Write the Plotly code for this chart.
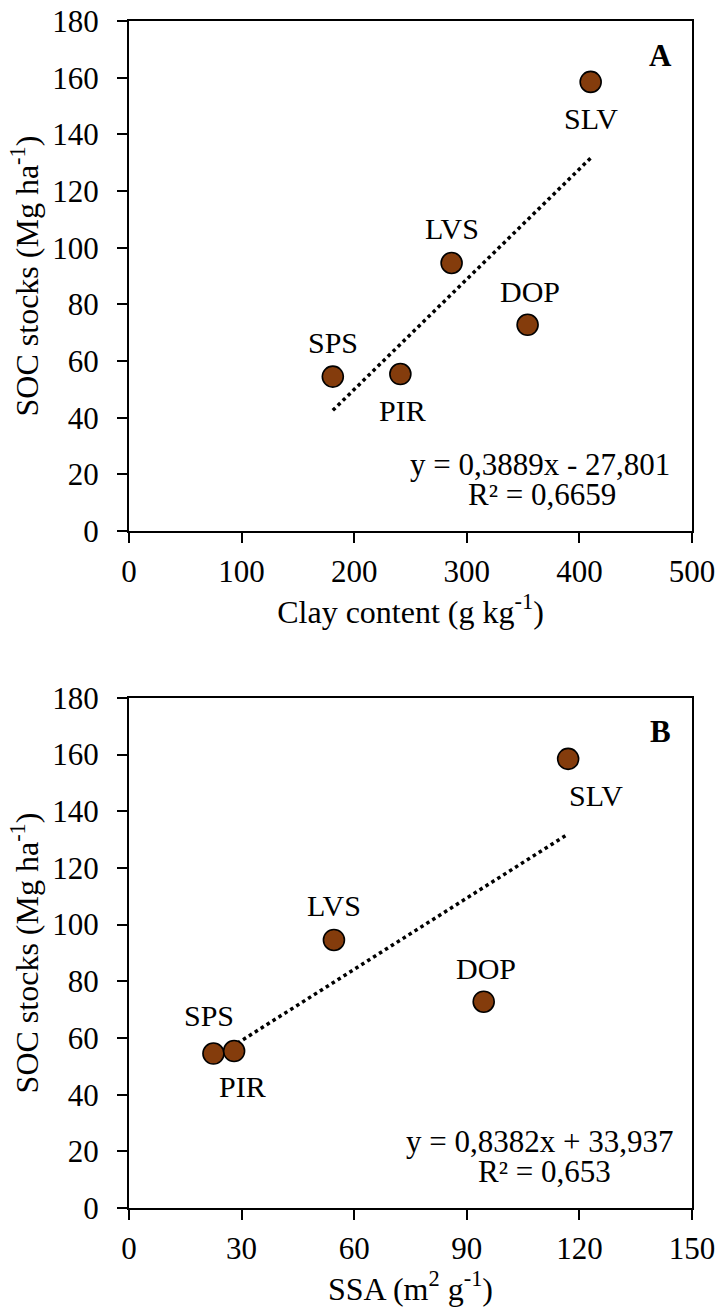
import plotly.graph_objects as go
import numpy as np

# ---------------- data ----------------
sites = ["SPS", "PIR", "LVS", "DOP", "SLV"]
soc_stocks = [54.5, 55.4, 94.6, 72.8, 158.5]          # Mg ha-1
clay_content = [181, 241, 286.5, 354, 410]            # g kg-1
ssa = [22.5, 28.0, 54.6, 94.5, 117.0]                 # m2 g-1

fit_a = {"slope": 0.3889, "intercept": -27.801}
fit_b = {"slope": 0.8382, "intercept": 33.937}
eq_a = ["y = 0,3889x - 27,801", "R² = 0,6659"]
eq_b = ["y = 0,8382x + 33,937", "R² = 0,653"]
panel_letters = ["A", "B"]

x_ticks_a = [0, 100, 200, 300, 400, 500]
x_ticks_b = [0, 30, 60, 90, 120, 150]
y_ticks = [0, 20, 40, 60, 80, 100, 120, 140, 160, 180]

# ---------------- style ----------------
FONT = "Times New Roman, Liberation Serif, serif"
BROWN = "#843C0C"
W, H = 718, 1309
# label offsets (pixels) for each site in each panel: (xshift, yshift)
lab_off_a = [(0, 34), (2, -36), (0, 34), (2, 33), (0, -37)]
lab_off_b = [(-4, 38), (8, -35), (0, 34), (2, 33), (28, -37)]

fig = go.Figure()

def add_panel(xvals, fit, xa, ya, eq, letter, offsets, letter_x, eq_x):
    xs = np.array([min(xvals), max(xvals)])
    ys = fit["slope"] * xs + fit["intercept"]
    fig.add_trace(go.Scatter(x=xs, y=ys, mode="lines", xaxis=xa, yaxis=ya,
                             line=dict(color="black", width=3.5, dash="3.5px,3.5px"),
                             showlegend=False, hoverinfo="skip"))
    fig.add_trace(go.Scatter(x=xvals, y=soc_stocks, mode="markers", xaxis=xa, yaxis=ya,
                             marker=dict(size=21, color=BROWN,
                                         line=dict(color="black", width=1.6)),
                             showlegend=False))
    for s, xv, yv, (dx, dy) in zip(sites, xvals, soc_stocks, offsets):
        fig.add_annotation(x=xv, y=yv, xref=xa, yref=ya, text=s, showarrow=False,
                           xshift=dx, yshift=dy,
                           font=dict(family=FONT, size=30, color="black"))
    fig.add_annotation(x=letter_x, y=168, xref=xa, yref=ya, text=f"<b>{letter}</b>",
                       showarrow=False, font=dict(family=FONT, size=31, color="black"))
    fig.add_annotation(x=eq_x[0], y=23.6, xref=xa, yref=ya, text=eq[0], showarrow=False,
                       font=dict(family=FONT, size=31, color="black"))
    fig.add_annotation(x=eq_x[1], y=13.0, xref=xa, yref=ya, text=eq[1], showarrow=False,
                       font=dict(family=FONT, size=31, color="black"))

add_panel(clay_content, fit_a, "x", "y", eq_a, panel_letters[0], lab_off_a, 472, (365, 366.5))
add_panel(ssa, fit_b, "x2", "y2", eq_b, panel_letters[1], lab_off_b, 141.5, (109.5, 110.8))

axis_common = dict(showline=True, linecolor="black", linewidth=2, mirror=True,
                   ticks="outside", ticklen=10, tickwidth=2, tickcolor="black",
                   showgrid=False, zeroline=False, automargin=False,
                   tickfont=dict(family=FONT, size=31, color="black"))

xt = lambda t: dict(text=t, standoff=6, font=dict(family=FONT, size=32, color="black"))
yt = lambda t: dict(text=t, standoff=4, font=dict(family=FONT, size=32, color="black"))

fig.update_layout(
    width=W, height=H,
    margin=dict(l=129, r=26, t=21, b=101, autoexpand=False),
    plot_bgcolor="white", paper_bgcolor="white",
    xaxis=dict(domain=[0, 1], anchor="y", range=[0, 500], tickvals=x_ticks_a,
               title=xt("Clay content (g kg<sup>-1</sup>)"), ticklabelstandoff=2,
               **axis_common),
    yaxis=dict(domain=[0.5703, 1], anchor="x", range=[0, 180], tickvals=y_ticks,
               title=yt("SOC stocks (Mg ha<sup>-1</sup>)"), ticklabelstandoff=12,
               **axis_common),
    xaxis2=dict(domain=[0, 1], anchor="y2", range=[0, 150], tickvals=x_ticks_b,
                title=xt("SSA (m<sup>2</sup> g<sup>-1</sup>)"), ticklabelstandoff=2,
                **axis_common),
    yaxis2=dict(domain=[0, 0.4297], anchor="x2", range=[0, 180], tickvals=y_ticks,
                title=yt("SOC stocks (Mg ha<sup>-1</sup>)"), ticklabelstandoff=12,
                **axis_common),
)

fig.write_html("out.html")
